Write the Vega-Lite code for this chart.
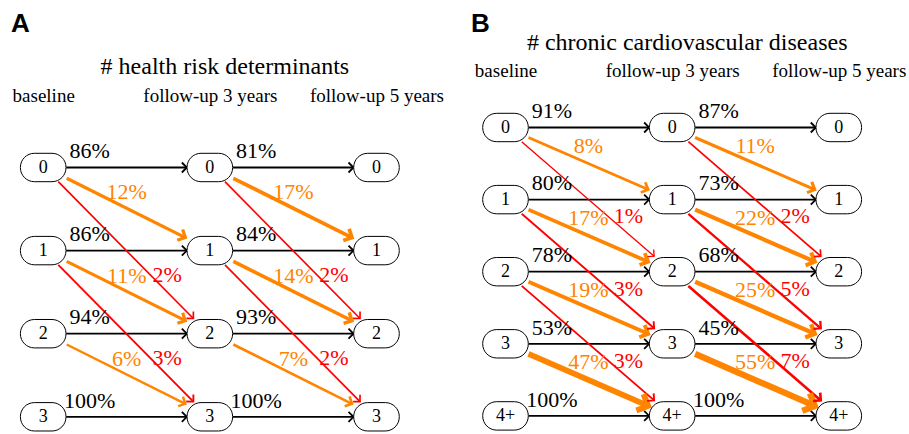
{
  "$schema": "https://vega.github.io/schema/vega-lite/v6.json",
  "padding": {"top": 11, "bottom": 0, "left": 0, "right": 0},
  "spacing": 0,
  "background": "white",
  "config": {"view": {"stroke": null}, "font": "Liberation Serif"},
  "datasets": {
    "nodes": [
      {"panel": "A", "col": 0, "row": 0, "label": "0"}, {"panel": "A", "col": 0, "row": 1, "label": "1"}, {"panel": "A", "col": 0, "row": 2, "label": "2"}, {"panel": "A", "col": 0, "row": 3, "label": "3"},
      {"panel": "A", "col": 1, "row": 0, "label": "0"}, {"panel": "A", "col": 1, "row": 1, "label": "1"}, {"panel": "A", "col": 1, "row": 2, "label": "2"}, {"panel": "A", "col": 1, "row": 3, "label": "3"},
      {"panel": "A", "col": 2, "row": 0, "label": "0"}, {"panel": "A", "col": 2, "row": 1, "label": "1"}, {"panel": "A", "col": 2, "row": 2, "label": "2"}, {"panel": "A", "col": 2, "row": 3, "label": "3"},
      {"panel": "B", "col": 0, "row": 0, "label": "0"}, {"panel": "B", "col": 0, "row": 1, "label": "1"}, {"panel": "B", "col": 0, "row": 2, "label": "2"}, {"panel": "B", "col": 0, "row": 3, "label": "3"}, {"panel": "B", "col": 0, "row": 4, "label": "4+"},
      {"panel": "B", "col": 1, "row": 0, "label": "0"}, {"panel": "B", "col": 1, "row": 1, "label": "1"}, {"panel": "B", "col": 1, "row": 2, "label": "2"}, {"panel": "B", "col": 1, "row": 3, "label": "3"}, {"panel": "B", "col": 1, "row": 4, "label": "4+"},
      {"panel": "B", "col": 2, "row": 0, "label": "0"}, {"panel": "B", "col": 2, "row": 1, "label": "1"}, {"panel": "B", "col": 2, "row": 2, "label": "2"}, {"panel": "B", "col": 2, "row": 3, "label": "3"}, {"panel": "B", "col": 2, "row": 4, "label": "4+"}
    ],
    "edges": [
      {"panel": "A", "kind": "stay", "from_col": 0, "from_row": 0, "to_col": 1, "to_row": 0, "share": 0.86},
      {"panel": "A", "kind": "stay", "from_col": 0, "from_row": 1, "to_col": 1, "to_row": 1, "share": 0.86},
      {"panel": "A", "kind": "stay", "from_col": 0, "from_row": 2, "to_col": 1, "to_row": 2, "share": 0.94},
      {"panel": "A", "kind": "stay", "from_col": 0, "from_row": 3, "to_col": 1, "to_row": 3, "share": 1.0},
      {"panel": "A", "kind": "stay", "from_col": 1, "from_row": 0, "to_col": 2, "to_row": 0, "share": 0.81},
      {"panel": "A", "kind": "stay", "from_col": 1, "from_row": 1, "to_col": 2, "to_row": 1, "share": 0.84},
      {"panel": "A", "kind": "stay", "from_col": 1, "from_row": 2, "to_col": 2, "to_row": 2, "share": 0.93},
      {"panel": "A", "kind": "stay", "from_col": 1, "from_row": 3, "to_col": 2, "to_row": 3, "share": 1.0},
      {"panel": "A", "kind": "up1", "from_col": 0, "from_row": 0, "to_col": 1, "to_row": 1, "share": 0.12},
      {"panel": "A", "kind": "up1", "from_col": 0, "from_row": 1, "to_col": 1, "to_row": 2, "share": 0.11},
      {"panel": "A", "kind": "up1", "from_col": 0, "from_row": 2, "to_col": 1, "to_row": 3, "share": 0.06},
      {"panel": "A", "kind": "up1", "from_col": 1, "from_row": 0, "to_col": 2, "to_row": 1, "share": 0.17},
      {"panel": "A", "kind": "up1", "from_col": 1, "from_row": 1, "to_col": 2, "to_row": 2, "share": 0.14},
      {"panel": "A", "kind": "up1", "from_col": 1, "from_row": 2, "to_col": 2, "to_row": 3, "share": 0.07},
      {"panel": "A", "kind": "up2", "from_col": 0, "from_row": 0, "to_col": 1, "to_row": 2, "share": 0.02},
      {"panel": "A", "kind": "up2", "from_col": 0, "from_row": 1, "to_col": 1, "to_row": 3, "share": 0.03},
      {"panel": "A", "kind": "up2", "from_col": 1, "from_row": 0, "to_col": 2, "to_row": 2, "share": 0.02},
      {"panel": "A", "kind": "up2", "from_col": 1, "from_row": 1, "to_col": 2, "to_row": 3, "share": 0.02},
      {"panel": "B", "kind": "stay", "from_col": 0, "from_row": 0, "to_col": 1, "to_row": 0, "share": 0.91},
      {"panel": "B", "kind": "stay", "from_col": 0, "from_row": 1, "to_col": 1, "to_row": 1, "share": 0.80},
      {"panel": "B", "kind": "stay", "from_col": 0, "from_row": 2, "to_col": 1, "to_row": 2, "share": 0.78},
      {"panel": "B", "kind": "stay", "from_col": 0, "from_row": 3, "to_col": 1, "to_row": 3, "share": 0.53},
      {"panel": "B", "kind": "stay", "from_col": 0, "from_row": 4, "to_col": 1, "to_row": 4, "share": 1.0},
      {"panel": "B", "kind": "stay", "from_col": 1, "from_row": 0, "to_col": 2, "to_row": 0, "share": 0.87},
      {"panel": "B", "kind": "stay", "from_col": 1, "from_row": 1, "to_col": 2, "to_row": 1, "share": 0.73},
      {"panel": "B", "kind": "stay", "from_col": 1, "from_row": 2, "to_col": 2, "to_row": 2, "share": 0.68},
      {"panel": "B", "kind": "stay", "from_col": 1, "from_row": 3, "to_col": 2, "to_row": 3, "share": 0.45},
      {"panel": "B", "kind": "stay", "from_col": 1, "from_row": 4, "to_col": 2, "to_row": 4, "share": 1.0},
      {"panel": "B", "kind": "up1", "from_col": 0, "from_row": 0, "to_col": 1, "to_row": 1, "share": 0.08},
      {"panel": "B", "kind": "up1", "from_col": 0, "from_row": 1, "to_col": 1, "to_row": 2, "share": 0.17},
      {"panel": "B", "kind": "up1", "from_col": 0, "from_row": 2, "to_col": 1, "to_row": 3, "share": 0.19},
      {"panel": "B", "kind": "up1", "from_col": 0, "from_row": 3, "to_col": 1, "to_row": 4, "share": 0.47},
      {"panel": "B", "kind": "up1", "from_col": 1, "from_row": 0, "to_col": 2, "to_row": 1, "share": 0.11},
      {"panel": "B", "kind": "up1", "from_col": 1, "from_row": 1, "to_col": 2, "to_row": 2, "share": 0.22},
      {"panel": "B", "kind": "up1", "from_col": 1, "from_row": 2, "to_col": 2, "to_row": 3, "share": 0.25},
      {"panel": "B", "kind": "up1", "from_col": 1, "from_row": 3, "to_col": 2, "to_row": 4, "share": 0.55},
      {"panel": "B", "kind": "up2", "from_col": 0, "from_row": 0, "to_col": 1, "to_row": 2, "share": 0.01},
      {"panel": "B", "kind": "up2", "from_col": 0, "from_row": 1, "to_col": 1, "to_row": 3, "share": 0.03},
      {"panel": "B", "kind": "up2", "from_col": 0, "from_row": 2, "to_col": 1, "to_row": 4, "share": 0.03},
      {"panel": "B", "kind": "up2", "from_col": 1, "from_row": 0, "to_col": 2, "to_row": 2, "share": 0.02},
      {"panel": "B", "kind": "up2", "from_col": 1, "from_row": 1, "to_col": 2, "to_row": 3, "share": 0.05},
      {"panel": "B", "kind": "up2", "from_col": 1, "from_row": 2, "to_col": 2, "to_row": 4, "share": 0.07}
    ]
  },
  "hconcat": [
    {
      "width": 454,
      "height": 317,
      "title": {"text": "A", "anchor": "start", "frame": "group", "font": "Liberation Sans", "fontSize": 26, "fontWeight": "bold", "color": "black", "offset": 17, "dx": 11},
      "layer": [
        {
          "data": {"name": "edges"},
          "transform": [{"filter": "datum.panel === 'A' && datum.kind === 'stay'"}],
          "mark": {"type": "rule", "color": "black", "strokeWidth": 1.8, "xOffset": 23, "x2Offset": -23},
          "encoding": {
            "x": {"field": "from_col", "type": "quantitative", "scale": {"domain": [-0.2592, 2.4651], "nice": false, "zero": false},
              "axis": {"orient": "top", "values": [0, 1, 2], "labelExpr": "datum.value == 0 ? 'baseline' : datum.value == 1 ? 'follow-up 3 years' : 'follow-up 5 years'", "domain": false, "ticks": false, "tickSize": 0, "grid": false, "labelFlush": false, "labelOverlap": false, "labelPadding": 12, "labelFont": "Liberation Serif", "labelFontSize": 19, "labelColor": "black", "title": "# health risk determinants", "titleFont": "Liberation Serif", "titleFontSize": 24, "titleFontWeight": "normal", "titleColor": "black", "titlePadding": 8, "titleX": 224.4}},
            "y": {"field": "from_row", "type": "quantitative", "scale": {"domain": [-0.6077, 3.207], "reverse": true, "nice": false, "zero": false}, "axis": null},
            "x2": {"field": "to_col"},
            "y2": {"field": "to_row"}
          }
        },
        {
          "data": {"name": "edges"},
          "transform": [{"filter": "datum.panel === 'A' && datum.kind === 'up1'"}],
          "mark": {"type": "rule", "color": "#ff8400", "xOffset": 23.5, "yOffset": 10.8, "x2Offset": -24.5, "y2Offset": -13},
          "encoding": {
            "x": {"field": "from_col", "type": "quantitative", "scale": {"domain": [-0.2592, 2.4651], "nice": false, "zero": false}},
            "y": {"field": "from_row", "type": "quantitative", "scale": {"domain": [-0.6077, 3.207], "reverse": true, "nice": false, "zero": false}, "axis": null},
            "x2": {"field": "to_col"},
            "y2": {"field": "to_row"},
            "strokeWidth": {"field": "share", "type": "quantitative", "scale": {"type": "sqrt", "domain": [0, 0.55], "range": [0.6, 6.2]}, "legend": null}
          }
        },
        {
          "data": {"name": "edges"},
          "transform": [{"filter": "datum.panel === 'A' && datum.kind === 'up2'"}],
          "mark": {"type": "rule", "color": "#ff0000", "xOffset": 15.1, "yOffset": 14.2, "x2Offset": -16.5, "y2Offset": -15.2},
          "encoding": {
            "x": {"field": "from_col", "type": "quantitative", "scale": {"domain": [-0.2592, 2.4651], "nice": false, "zero": false}},
            "y": {"field": "from_row", "type": "quantitative", "scale": {"domain": [-0.6077, 3.207], "reverse": true, "nice": false, "zero": false}, "axis": null},
            "x2": {"field": "to_col"},
            "y2": {"field": "to_row"},
            "strokeWidth": {"field": "share", "type": "quantitative", "scale": {"type": "sqrt", "domain": [0, 0.55], "range": [0.6, 6.2]}, "legend": null}
          }
        },
        {
          "data": {"name": "edges"},
          "transform": [{"filter": "datum.panel === 'A' && datum.kind === 'stay'"}],
          "mark": {"type": "point", "shape": "M-1,-1L0,0L-1,1", "filled": false, "opacity": 1, "color": "black", "strokeWidth": 1.8, "size": 100, "angle": 0, "xOffset": -23},
          "encoding": {
            "x": {"field": "to_col", "type": "quantitative", "scale": {"domain": [-0.2592, 2.4651], "nice": false, "zero": false}},
            "y": {"field": "to_row", "type": "quantitative", "scale": {"domain": [-0.6077, 3.207], "reverse": true, "nice": false, "zero": false}, "axis": null}
          }
        },
        {
          "data": {"name": "edges"},
          "transform": [{"filter": "datum.panel === 'A' && datum.kind === 'up1'"}],
          "mark": {"type": "point", "shape": "M-1,-1L0,0L-1,1", "filled": false, "opacity": 1, "color": "#ff8400", "angle": 26.56, "xOffset": -24.5, "yOffset": -13},
          "encoding": {
            "x": {"field": "to_col", "type": "quantitative", "scale": {"domain": [-0.2592, 2.4651], "nice": false, "zero": false}},
            "y": {"field": "to_row", "type": "quantitative", "scale": {"domain": [-0.6077, 3.207], "reverse": true, "nice": false, "zero": false}, "axis": null},
            "strokeWidth": {"field": "share", "type": "quantitative", "scale": {"type": "sqrt", "domain": [0, 0.55], "range": [0.6, 6.2]}, "legend": null},
            "size": {"field": "share", "type": "quantitative", "scale": {"domain": [0, 0.55], "range": [85, 360]}, "legend": null}
          }
        },
        {
          "data": {"name": "edges"},
          "transform": [{"filter": "datum.panel === 'A' && datum.kind === 'up2'"}],
          "mark": {"type": "point", "shape": "M-1,-1L0,0L-1,1", "filled": false, "opacity": 1, "color": "#ff0000", "angle": 45.37, "xOffset": -16.5, "yOffset": -15.2},
          "encoding": {
            "x": {"field": "to_col", "type": "quantitative", "scale": {"domain": [-0.2592, 2.4651], "nice": false, "zero": false}},
            "y": {"field": "to_row", "type": "quantitative", "scale": {"domain": [-0.6077, 3.207], "reverse": true, "nice": false, "zero": false}, "axis": null},
            "strokeWidth": {"field": "share", "type": "quantitative", "scale": {"type": "sqrt", "domain": [0, 0.55], "range": [0.6, 6.2]}, "legend": null},
            "size": {"field": "share", "type": "quantitative", "scale": {"domain": [0, 0.55], "range": [85, 360]}, "legend": null}
          }
        },
        {
          "data": {"name": "edges"},
          "transform": [{"filter": "datum.panel === 'A' && datum.kind === 'stay'"}],
          "mark": {"type": "text", "align": "center", "baseline": "alphabetic", "dx": 46.4, "dy": -9.2, "font": "Liberation Serif", "fontSize": 22, "color": "black"},
          "encoding": {
            "x": {"field": "from_col", "type": "quantitative", "scale": {"domain": [-0.2592, 2.4651], "nice": false, "zero": false}},
            "y": {"field": "from_row", "type": "quantitative", "scale": {"domain": [-0.6077, 3.207], "reverse": true, "nice": false, "zero": false}, "axis": null},
            "text": {"field": "share", "type": "quantitative", "format": ".0%"}
          }
        },
        {
          "data": {"name": "edges"},
          "transform": [{"filter": "datum.panel === 'A' && datum.kind === 'up1'"}],
          "mark": {"type": "text", "align": "center", "baseline": "alphabetic", "dx": 83.5, "dy": 32, "font": "Liberation Serif", "fontSize": 22, "color": "#ff8400"},
          "encoding": {
            "x": {"field": "from_col", "type": "quantitative", "scale": {"domain": [-0.2592, 2.4651], "nice": false, "zero": false}},
            "y": {"field": "from_row", "type": "quantitative", "scale": {"domain": [-0.6077, 3.207], "reverse": true, "nice": false, "zero": false}, "axis": null},
            "text": {"field": "share", "type": "quantitative", "format": ".0%"}
          }
        },
        {
          "data": {"name": "edges"},
          "transform": [{"filter": "datum.panel === 'A' && datum.kind === 'up2'"}],
          "mark": {"type": "text", "align": "center", "baseline": "alphabetic", "dx": 124, "dy": 114.5, "font": "Liberation Serif", "fontSize": 22, "color": "#ff0000"},
          "encoding": {
            "x": {"field": "from_col", "type": "quantitative", "scale": {"domain": [-0.2592, 2.4651], "nice": false, "zero": false}},
            "y": {"field": "from_row", "type": "quantitative", "scale": {"domain": [-0.6077, 3.207], "reverse": true, "nice": false, "zero": false}, "axis": null},
            "text": {"field": "share", "type": "quantitative", "format": ".0%"}
          }
        },
        {
          "data": {"name": "nodes"},
          "transform": [{"filter": "datum.panel === 'A'"}],
          "mark": {"type": "rect", "fill": "white", "stroke": "black", "strokeWidth": 1, "cornerRadius": 14, "xOffset": -22.8, "x2Offset": 22.8, "yOffset": -14.2, "y2Offset": 14.2},
          "encoding": {
            "x": {"field": "col", "type": "quantitative", "scale": {"domain": [-0.2592, 2.4651], "nice": false, "zero": false}},
            "x2": {"field": "col"},
            "y": {"field": "row", "type": "quantitative", "scale": {"domain": [-0.6077, 3.207], "reverse": true, "nice": false, "zero": false}, "axis": null},
            "y2": {"field": "row"}
          }
        },
        {
          "data": {"name": "nodes"},
          "transform": [{"filter": "datum.panel === 'A'"}],
          "mark": {"type": "text", "align": "center", "baseline": "middle", "dy": 0.5, "font": "Liberation Serif", "fontSize": 18, "color": "black"},
          "encoding": {
            "x": {"field": "col", "type": "quantitative", "scale": {"domain": [-0.2592, 2.4651], "nice": false, "zero": false}},
            "y": {"field": "row", "type": "quantitative", "scale": {"domain": [-0.6077, 3.207], "reverse": true, "nice": false, "zero": false}, "axis": null},
            "text": {"field": "label", "type": "nominal"}
          }
        }
      ]
    },
    {
      "width": 455,
      "height": 317,
      "title": {"text": "B", "anchor": "start", "frame": "group", "font": "Liberation Sans", "fontSize": 26, "fontWeight": "bold", "color": "black", "offset": -7, "dx": 17},
      "layer": [
        {
          "data": {"name": "edges"},
          "transform": [{"filter": "datum.panel === 'B' && datum.kind === 'stay'"}],
          "mark": {"type": "rule", "color": "black", "strokeWidth": 1.8, "xOffset": 23, "x2Offset": -23},
          "encoding": {
            "x": {"field": "from_col", "type": "quantitative", "scale": {"domain": [-0.309, 2.4213], "nice": false, "zero": false},
              "axis": {"orient": "top", "offset": 25, "values": [0, 1, 2], "labelExpr": "datum.value == 0 ? 'baseline' : datum.value == 1 ? 'follow-up 3 years' : 'follow-up 5 years'", "domain": false, "ticks": false, "tickSize": 0, "grid": false, "labelFlush": false, "labelOverlap": false, "labelPadding": 12, "labelFont": "Liberation Serif", "labelFontSize": 19, "labelColor": "black", "title": "# chronic cardiovascular diseases", "titleFont": "Liberation Serif", "titleFontSize": 24, "titleFontWeight": "normal", "titleColor": "black", "titlePadding": 7, "titleX": 232.7}},
            "y": {"field": "from_row", "type": "quantitative", "scale": {"domain": [-0.1456, 4.2511], "reverse": true, "nice": false, "zero": false}, "axis": null},
            "x2": {"field": "to_col"},
            "y2": {"field": "to_row"}
          }
        },
        {
          "data": {"name": "edges"},
          "transform": [{"filter": "datum.panel === 'B' && datum.kind === 'up1'"}],
          "mark": {"type": "rule", "color": "#ff8400", "xOffset": 23, "yOffset": 10, "x2Offset": -24, "y2Offset": -10},
          "encoding": {
            "x": {"field": "from_col", "type": "quantitative", "scale": {"domain": [-0.309, 2.4213], "nice": false, "zero": false}},
            "y": {"field": "from_row", "type": "quantitative", "scale": {"domain": [-0.1456, 4.2511], "reverse": true, "nice": false, "zero": false}, "axis": null},
            "x2": {"field": "to_col"},
            "y2": {"field": "to_row"},
            "strokeWidth": {"field": "share", "type": "quantitative", "scale": {"type": "sqrt", "domain": [0, 0.55], "range": [0.6, 6.2]}, "legend": null}
          }
        },
        {
          "data": {"name": "edges"},
          "transform": [{"filter": "datum.panel === 'B' && datum.kind === 'up2'"}],
          "mark": {"type": "rule", "color": "#ff0000", "xOffset": 16.2, "yOffset": 14.2, "x2Offset": -18, "y2Offset": -15.5},
          "encoding": {
            "x": {"field": "from_col", "type": "quantitative", "scale": {"domain": [-0.309, 2.4213], "nice": false, "zero": false}},
            "y": {"field": "from_row", "type": "quantitative", "scale": {"domain": [-0.1456, 4.2511], "reverse": true, "nice": false, "zero": false}, "axis": null},
            "x2": {"field": "to_col"},
            "y2": {"field": "to_row"},
            "strokeWidth": {"field": "share", "type": "quantitative", "scale": {"type": "sqrt", "domain": [0, 0.55], "range": [0.6, 6.2]}, "legend": null}
          }
        },
        {
          "data": {"name": "edges"},
          "transform": [{"filter": "datum.panel === 'B' && datum.kind === 'stay'"}],
          "mark": {"type": "point", "shape": "M-1,-1L0,0L-1,1", "filled": false, "opacity": 1, "color": "black", "strokeWidth": 1.8, "size": 100, "angle": 0, "xOffset": -23},
          "encoding": {
            "x": {"field": "to_col", "type": "quantitative", "scale": {"domain": [-0.309, 2.4213], "nice": false, "zero": false}},
            "y": {"field": "to_row", "type": "quantitative", "scale": {"domain": [-0.1456, 4.2511], "reverse": true, "nice": false, "zero": false}, "axis": null}
          }
        },
        {
          "data": {"name": "edges"},
          "transform": [{"filter": "datum.panel === 'B' && datum.kind === 'up1'"}],
          "mark": {"type": "point", "shape": "M-1,-1L0,0L-1,1", "filled": false, "opacity": 1, "color": "#ff8400", "angle": 23.53, "xOffset": -24, "yOffset": -10},
          "encoding": {
            "x": {"field": "to_col", "type": "quantitative", "scale": {"domain": [-0.309, 2.4213], "nice": false, "zero": false}},
            "y": {"field": "to_row", "type": "quantitative", "scale": {"domain": [-0.1456, 4.2511], "reverse": true, "nice": false, "zero": false}, "axis": null},
            "strokeWidth": {"field": "share", "type": "quantitative", "scale": {"type": "sqrt", "domain": [0, 0.55], "range": [0.6, 6.2]}, "legend": null},
            "size": {"field": "share", "type": "quantitative", "scale": {"domain": [0, 0.55], "range": [85, 360]}, "legend": null}
          }
        },
        {
          "data": {"name": "edges"},
          "transform": [{"filter": "datum.panel === 'B' && datum.kind === 'up2'"}],
          "mark": {"type": "point", "shape": "M-1,-1L0,0L-1,1", "filled": false, "opacity": 1, "color": "#ff0000", "angle": 40.84, "xOffset": -18, "yOffset": -15.5},
          "encoding": {
            "x": {"field": "to_col", "type": "quantitative", "scale": {"domain": [-0.309, 2.4213], "nice": false, "zero": false}},
            "y": {"field": "to_row", "type": "quantitative", "scale": {"domain": [-0.1456, 4.2511], "reverse": true, "nice": false, "zero": false}, "axis": null},
            "strokeWidth": {"field": "share", "type": "quantitative", "scale": {"type": "sqrt", "domain": [0, 0.55], "range": [0.6, 6.2]}, "legend": null},
            "size": {"field": "share", "type": "quantitative", "scale": {"domain": [0, 0.55], "range": [85, 360]}, "legend": null}
          }
        },
        {
          "data": {"name": "edges"},
          "transform": [{"filter": "datum.panel === 'B' && datum.kind === 'stay'"}],
          "mark": {"type": "text", "align": "center", "baseline": "alphabetic", "dx": 46.4, "dy": -9.2, "font": "Liberation Serif", "fontSize": 22, "color": "black"},
          "encoding": {
            "x": {"field": "from_col", "type": "quantitative", "scale": {"domain": [-0.309, 2.4213], "nice": false, "zero": false}},
            "y": {"field": "from_row", "type": "quantitative", "scale": {"domain": [-0.1456, 4.2511], "reverse": true, "nice": false, "zero": false}, "axis": null},
            "text": {"field": "share", "type": "quantitative", "format": ".0%"}
          }
        },
        {
          "data": {"name": "edges"},
          "transform": [{"filter": "datum.panel === 'B' && datum.kind === 'up1'"}],
          "mark": {"type": "text", "align": "center", "baseline": "alphabetic", "dx": 83, "dy": 25.5, "font": "Liberation Serif", "fontSize": 22, "color": "#ff8400"},
          "encoding": {
            "x": {"field": "from_col", "type": "quantitative", "scale": {"domain": [-0.309, 2.4213], "nice": false, "zero": false}},
            "y": {"field": "from_row", "type": "quantitative", "scale": {"domain": [-0.1456, 4.2511], "reverse": true, "nice": false, "zero": false}, "axis": null},
            "text": {"field": "share", "type": "quantitative", "format": ".0%"}
          }
        },
        {
          "data": {"name": "edges"},
          "transform": [{"filter": "datum.panel === 'B' && datum.kind === 'up2'"}],
          "mark": {"type": "text", "align": "center", "baseline": "alphabetic", "dx": 123, "dy": 96, "font": "Liberation Serif", "fontSize": 22, "color": "#ff0000"},
          "encoding": {
            "x": {"field": "from_col", "type": "quantitative", "scale": {"domain": [-0.309, 2.4213], "nice": false, "zero": false}},
            "y": {"field": "from_row", "type": "quantitative", "scale": {"domain": [-0.1456, 4.2511], "reverse": true, "nice": false, "zero": false}, "axis": null},
            "text": {"field": "share", "type": "quantitative", "format": ".0%"}
          }
        },
        {
          "data": {"name": "nodes"},
          "transform": [{"filter": "datum.panel === 'B'"}],
          "mark": {"type": "rect", "fill": "white", "stroke": "black", "strokeWidth": 1, "cornerRadius": 14, "xOffset": -22.8, "x2Offset": 22.8, "yOffset": -14.2, "y2Offset": 14.2},
          "encoding": {
            "x": {"field": "col", "type": "quantitative", "scale": {"domain": [-0.309, 2.4213], "nice": false, "zero": false}},
            "x2": {"field": "col"},
            "y": {"field": "row", "type": "quantitative", "scale": {"domain": [-0.1456, 4.2511], "reverse": true, "nice": false, "zero": false}, "axis": null},
            "y2": {"field": "row"}
          }
        },
        {
          "data": {"name": "nodes"},
          "transform": [{"filter": "datum.panel === 'B'"}],
          "mark": {"type": "text", "align": "center", "baseline": "middle", "dy": 0.5, "font": "Liberation Serif", "fontSize": 18, "color": "black"},
          "encoding": {
            "x": {"field": "col", "type": "quantitative", "scale": {"domain": [-0.309, 2.4213], "nice": false, "zero": false}},
            "y": {"field": "row", "type": "quantitative", "scale": {"domain": [-0.1456, 4.2511], "reverse": true, "nice": false, "zero": false}, "axis": null},
            "text": {"field": "label", "type": "nominal"}
          }
        }
      ]
    }
  ]
}
